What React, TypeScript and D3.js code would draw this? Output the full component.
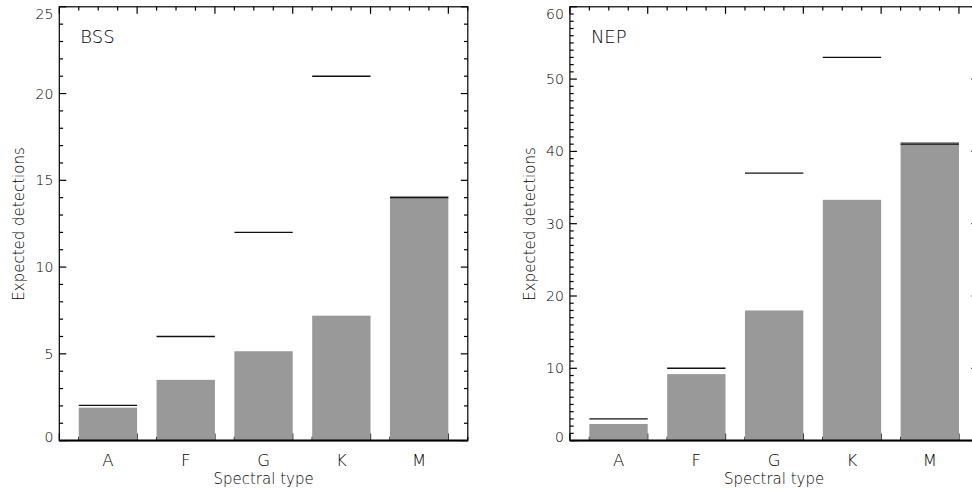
import React from "react";
import * as d3 from "d3";

const categories = ["A", "F", "G", "K", "M"];
const bssBars = [1.9, 3.5, 5.15, 7.2, 14.1];
const bssLines = [2.03, 6.0, 12.0, 21.0, 14.0];
const nepBars = [2.3, 9.2, 18.0, 33.3, 41.3];
const nepLines = [3.0, 10.0, 37.0, 53.0, 41.0];
const bssYTicks = [0, 5, 10, 15, 20, 25];
const nepYTicks = [0, 10, 20, 30, 40, 50, 60];

const FONT = "'DejaVu Sans', sans-serif";
const W = 972;
const H = 492;
const TOP = 6.8;
const BOTTOM = 440.6;
const PW = 408.5;
const TXT = "#000";

type PanelProps = {
  x0: number;
  label: string;
  bars: number[];
  lines: number[];
  yMax: number;
  yTicks: number[];
  yMinorStep: number;
};

function Panel({ x0, label, bars, lines, yMax, yTicks, yMinorStep }: PanelProps) {
  const x = d3.scaleLinear().domain([0, 5.25]).range([x0, x0 + PW]);
  const y = d3.scaleLinear().domain([0, yMax]).range([BOTTOM, TOP]);
  const xMajor = d3.range(0, 6, 1);
  const xMinor = d3.range(0, 5.25 + 1e-9, 0.25).filter((v) => Math.abs(v - Math.round(v)) > 1e-6);
  const yMinor = d3.range(0, yMax + 1e-9, yMinorStep).filter((v) => !yTicks.includes(v));
  const MAJ = 7;
  const MIN = 3.8;
  const x1 = x0 + PW;
  const sw = 1.2;
  return (
    <g>
      {xMajor.map((v) => (
        <line key={"bM" + v} x1={x(v)} x2={x(v)} y1={BOTTOM} y2={BOTTOM - MAJ} stroke="#000" strokeWidth={sw} />
      ))}
      {xMinor.map((v) => (
        <line key={"bm" + v} x1={x(v)} x2={x(v)} y1={BOTTOM} y2={BOTTOM - MIN} stroke="#000" strokeWidth={sw} />
      ))}
      {bars.map((v, i) => (
        <rect key={"bar" + i} x={x(i + 0.25)} width={x(i + 1) - x(i + 0.25)} y={y(v)} height={BOTTOM - y(v)} fill="#999999" />
      ))}
      {lines.map((v, i) => (
        <line key={"ln" + i} x1={x(i + 0.25)} x2={x(i + 1)} y1={y(v)} y2={y(v)} stroke="#111" strokeWidth={1.4} />
      ))}
      {xMajor.map((v) => (
        <line key={"tM" + v} x1={x(v)} x2={x(v)} y1={TOP} y2={TOP + MAJ} stroke="#000" strokeWidth={sw} />
      ))}
      {xMinor.map((v) => (
        <line key={"tm" + v} x1={x(v)} x2={x(v)} y1={TOP} y2={TOP + MIN} stroke="#000" strokeWidth={sw} />
      ))}
      {yTicks.map((v) => (
        <g key={"yM" + v}>
          <line x1={x0} x2={x0 + MAJ} y1={y(v)} y2={y(v)} stroke="#000" strokeWidth={sw} />
          <line x1={x1} x2={x1 - MAJ} y1={y(v)} y2={y(v)} stroke="#000" strokeWidth={sw} />
        </g>
      ))}
      {yMinor.map((v) => (
        <g key={"ym" + v}>
          <line x1={x0} x2={x0 + MIN} y1={y(v)} y2={y(v)} stroke="#000" strokeWidth={sw} />
          <line x1={x1} x2={x1 - MIN} y1={y(v)} y2={y(v)} stroke="#000" strokeWidth={sw} />
        </g>
      ))}
      <rect x={x0} y={TOP} width={PW} height={BOTTOM - TOP} fill="none" stroke="#000" strokeWidth={sw} />
      <line x1={x0} x2={x1} y1={BOTTOM} y2={BOTTOM} stroke="#000" strokeWidth={2} />
      {yTicks.map((v) => {
        const cy = Math.min(Math.max(y(v), TOP + 7.5), BOTTOM - 4);
        return (
          <text key={"yl" + v} x={x0 - 6} y={cy} dy="0.36em" textAnchor="end" fontFamily={FONT} fontWeight={200} fontSize={14} fill={TXT}>
            {v}
          </text>
        );
      })}
      {categories.map((c, i) => (
        <text key={"c" + c} x={x(i + 0.625)} y={465.5} textAnchor="middle" fontFamily={FONT} fontWeight={200} fontSize={16.5} fill={TXT}>
          {c}
        </text>
      ))}
      <text x={x0 + PW / 2} y={483.5} textAnchor="middle" fontFamily={FONT} fontWeight={200} fontSize={15} fill={TXT}>
        Spectral type
      </text>
      <text
        transform={`translate(${x0 - 35},224) rotate(-90)`}
        textAnchor="middle"
        fontFamily={FONT}
        fontWeight={200}
        fontSize={15}
        fill={TXT}
      >
        Expected detections
      </text>
      <text x={x0 + 21} y={43.3} fontFamily={FONT} fontWeight={200} fontSize={18} fill={TXT}>
        {label}
      </text>
    </g>
  );
}

export default function App() {
  return (
    <svg width={W} height={H} style={{ position: "absolute", left: 0, top: 0, background: "#fff" }}>
      <rect x={0} y={0} width={W} height={H} fill="#fff" />
      <Panel x0={59.3} label="BSS" bars={bssBars} lines={bssLines} yMax={25} yTicks={bssYTicks} yMinorStep={1} />
      <Panel x0={569.9} label="NEP" bars={nepBars} lines={nepLines} yMax={60} yTicks={nepYTicks} yMinorStep={1} />
    </svg>
  );
}
